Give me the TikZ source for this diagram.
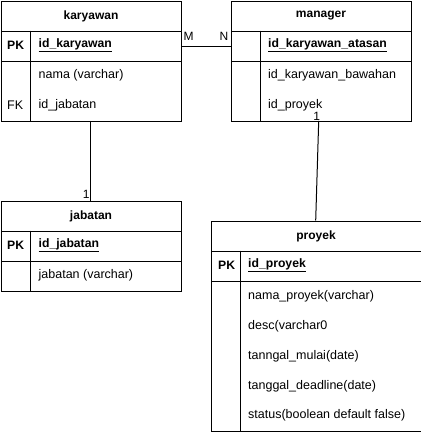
\documentclass[tikz,border=0pt]{standalone}
\usepackage{fontspec}
\setmainfont{Liberation Sans}
\begin{document}
\begin{tikzpicture}[x=1pt,y=-1pt,
  every node/.style={font=\fontsize{12.5}{14}\selectfont, inner sep=0pt},
  frame/.style={draw=black, line width=1pt},
  cell/.style={frame, anchor=north west, minimum height=#1},
  hdr/.style={font=\fontsize{12}{14}\selectfont\bfseries},
  key/.style={font=\fontsize{12.2}{14}\selectfont\bfseries, anchor=west},
  fld/.style={anchor=west},
  lbl/.style={font=\fontsize{12}{14}\selectfont},
  link/.style={draw=black, line width=1pt}]
\useasboundingbox (0,0) rectangle (421,432);

% ---------- karyawan ----------
\node[cell=30pt, minimum width=180pt] (karyawanhead) at (0.5,0.5) {};
\node[cell=30pt, minimum width=180pt] (karyawanpk) at (0.5,30.5) {};
\node[cell=60pt, minimum width=180pt] (karyawanbody) at (0.5,60.5) {};
\node[anchor=north west, minimum width=180pt, minimum height=120pt] (karyawan) at (0.5,0.5) {};
\draw[frame] (30.5,30.5) -- (30.5,120.5);
\node[hdr] at (karyawanhead.center) {karyawan};
\node[key] at (7,45.5) {PK};
\node[key] at (38.5,45.5) {\underline{id\_karyawan}};
\node[fld] at (38.5,75.5) {nama (varchar)};
\node[fld] at (7,105.5) {FK};
\node[fld] at (38.5,105.5) {id\_jabatan};

% ---------- manager ----------
\node[cell=30pt, minimum width=180pt] (managerhead) at (230.5,0.5) {};
\node[cell=30pt, minimum width=180pt] (managerpk) at (230.5,30.5) {};
\node[cell=60pt, minimum width=180pt] (managerbody) at (230.5,60.5) {};
\node[anchor=north west, minimum width=180pt, minimum height=120pt] (manager) at (230.5,0.5) {};
\draw[frame] (260.5,30.5) -- (260.5,120.5);
\node[hdr] at (managerhead.center) {manager};
\node[key] at (268,45.5) {\underline{id\_karyawan\_atasan}};
\node[fld] at (268,75.5) {id\_karyawan\_bawahan};
\node[fld] at (268,105.5) {id\_proyek};

% ---------- jabatan ----------
\node[cell=30pt, minimum width=180pt] (jabatanhead) at (0.5,200.5) {};
\node[cell=30pt, minimum width=180pt] (jabatanpk) at (0.5,230.5) {};
\node[cell=30pt, minimum width=180pt] (jabatanbody) at (0.5,260.5) {};
\node[anchor=north west, minimum width=180pt, minimum height=90pt] (jabatan) at (0.5,200.5) {};
\draw[frame] (30.5,230.5) -- (30.5,290.5);
\node[hdr] at (jabatanhead.center) {jabatan};
\node[key] at (7,245.5) {PK};
\node[key] at (38.5,245.5) {\underline{id\_jabatan}};
\node[fld] at (38.5,275.5) {jabatan (varchar)};

% ---------- proyek ----------
\node[cell=30pt, minimum width=210pt] (proyekhead) at (210.5,220.5) {};
\node[cell=30pt, minimum width=210pt] (proyekpk) at (210.5,250.5) {};
\node[cell=150pt, minimum width=210pt] (proyekbody) at (210.5,280.5) {};
\node[anchor=north west, minimum width=210pt, minimum height=210pt] (proyek) at (210.5,220.5) {};
\draw[frame] (240.5,250.5) -- (240.5,430.5);
\node[hdr] at (proyekhead.center) {proyek};
\node[key] at (218,265.5) {PK};
\node[key] at (248,265.5) {\underline{id\_proyek}};
\node[fld] at (248,296) {nama\_proyek(varchar)};
\node[fld] at (248,326) {desc(varchar0};
\node[fld] at (248,356) {tanngal\_mulai(date)};
\node[fld] at (248,386) {tanggal\_deadline(date)};
\node[fld] at (248,415.5) {status(boolean default false)};

% ---------- connectors ----------
\draw[link] (karyawanpk.east) -- (managerpk.west);
\node[lbl, anchor=south west] at ([xshift=2pt,yshift=5pt]karyawanpk.east) {M};
\node[lbl, anchor=south east] at ([xshift=-2pt,yshift=5pt]managerpk.west) {N};

\draw[link] (karyawan.south) -- (jabatan.north);
\node[lbl, anchor=south east] at ([xshift=-1pt,yshift=2pt]jabatan.north) {1};

\draw[link] ([xshift=-2pt]manager.south) -- (proyek.north);
\node[lbl, anchor=south] at ([xshift=-4pt,yshift=0pt]manager.south) {1};
\end{tikzpicture}
\end{document}
